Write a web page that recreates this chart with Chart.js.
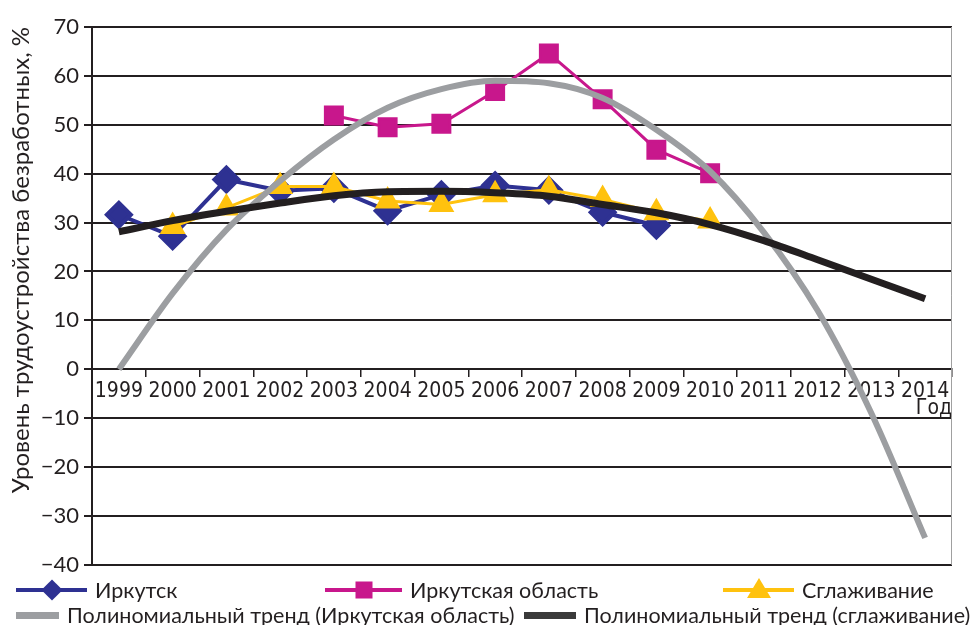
<!DOCTYPE html>
<html>
<head>
<meta charset="utf-8">
<script src="https://cdn.jsdelivr.net/npm/chart.js@4/dist/chart.umd.min.js"></script>
<style>
  body { margin: 0; background: #fff; }
  #wrap { position: relative; width: 971px; height: 625px; overflow: hidden; }
  #box { position: absolute; left: 0; top: 0; width: 971px; height: 583px; }
  .leg { position: absolute; display: flex; align-items: center; height: 24px;
         font: 21.5px Lato, sans-serif; color: #231f20; white-space: nowrap; }
  .sample { position: relative; margin-right: 8px; }
  .mk { position: absolute; left: 50%; top: 50%; }
</style>
</head>
<body>
<div id="wrap">
  <div id="box"><canvas id="chart"></canvas></div>
  <div id="legend"></div>
</div>
<script>
// годы
const years = ['1999', '2000', '2001', '2002', '2003', '2004', '2005', '2006',
               '2007', '2008', '2009', '2010', '2011', '2012', '2013', '2014'];

// ряды данных, %
const irkutsk = [31.6, 27.2, 38.8, 36.5, 37.0, 32.4, 35.7, 37.6, 36.6, 32.1, 29.4,
                 null, null, null, null, null];
const oblast = [null, null, null, null, 51.9, 49.5, 50.2, 56.9, 64.6, 55.2, 44.9, 40.1,
                null, null, null, null];
const smoothing = [null, 29.2, 33.0, 37.4, 37.4, 34.4, 33.7, 35.7, 36.7, 34.7, 32.0, 30.3,
                   null, null, null, null];

// линии тренда
const trendOblast = [0.0, 15.5, 28.5, 38.5, 47.0, 53.5, 57.3, 59.0, 58.5, 55.5, 49.0, 40.5,
                     28.0, 12.0, -9.0, -34.5];
const trendSmooth = [28.1, 30.4, 32.3, 34.0, 35.5, 36.3, 36.4, 36.1, 35.4, 33.7, 32.0, 29.6,
                     26.3, 22.4, 18.4, 14.4];

const yTicks = [-40, -30, -20, -10, 0, 10, 20, 30, 40, 50, 60, 70];
const yTitle = 'Уровень трудоустройства безработных, %';
const xTitle = 'Год';

const blue = '#2e3192';
const magenta = '#c8178c';
const yellow = '#ffc20e';
const gray = '#9c9ea1';
const black = '#231f20';
const narrow = '"DejaVu Sans Condensed", "Liberation Sans Narrow", sans-serif';

// рамка справа и подпись оси X
const extras = {
  id: 'extras',
  beforeDatasetsDraw(chart) {
    const { ctx, chartArea, scales } = chart;
    ctx.save();
    ctx.strokeStyle = '#a0a0a0';
    ctx.lineWidth = 1;
    ctx.beginPath();
    ctx.moveTo(chartArea.right - 0.5, chartArea.top);
    ctx.lineTo(chartArea.right - 0.5, chartArea.bottom);
    ctx.stroke();
    ctx.font = '21px ' + narrow;
    ctx.fillStyle = black;
    ctx.textAlign = 'right';
    ctx.textBaseline = 'top';
    ctx.fillText(xTitle, chartArea.right, scales.y.getPixelForValue(0) + 29);
    ctx.restore();
  }
};

const ctx = document.getElementById('chart').getContext('2d');
const chart = new Chart(ctx, {
  type: 'line',
  data: {
    labels: years,
    datasets: [
      {
        label: 'Иркутск', data: irkutsk, borderColor: blue, backgroundColor: blue,
        borderWidth: 4, pointStyle: 'rectRot', pointRadius: 12, order: 4
      },
      {
        label: 'Иркутская область', data: oblast, borderColor: magenta, backgroundColor: magenta,
        borderWidth: 3, pointStyle: 'rect', pointRadius: 12, order: 3
      },
      {
        label: 'Сглаживание', data: smoothing, borderColor: yellow, backgroundColor: yellow,
        borderWidth: 3, pointStyle: 'triangle', pointRadius: 12, order: 2
      },
      {
        label: 'Полиномиальный тренд (Иркутская область)', data: trendOblast,
        borderColor: gray, borderWidth: 6, pointRadius: 0, cubicInterpolationMode: 'monotone', order: 1
      },
      {
        label: 'Полиномиальный тренд (сглаживание)', data: trendSmooth,
        borderColor: black, borderWidth: 7, pointRadius: 0, cubicInterpolationMode: 'monotone', order: 0
      }
    ]
  },
  options: {
    responsive: true,
    maintainAspectRatio: false,
    animation: false,
    layout: { padding: { top: 27, right: 19, bottom: 4, left: 0 } },
    plugins: {
      legend: { display: false },
      tooltip: { enabled: false }
    },
    scales: {
      x: {
        position: { y: 0 },
        offset: true,
        grid: { offset: true, drawOnChartArea: false, color: black, lineWidth: 1.5, tickLength: 7 },
        border: { display: true, color: black, width: 2 },
        ticks: { color: black, font: { family: narrow, size: 21 }, padding: 3, maxRotation: 0, autoSkip: false },
        afterFit(scale) { scale.height = 0; }
      },
      y: {
        min: -40, max: 70,
        afterBuildTicks(scale) { scale.ticks = yTicks.map(v => ({ value: v })); },
        grid: { color: black, lineWidth: 2, tickLength: 8 },
        border: { color: black, width: 2 },
        ticks: {
          color: black, font: { family: 'Lato', size: 22 }, padding: 5,
          callback: v => String(v).replace('-', '\u2212')
        },
        title: {
          display: true, text: yTitle, align: 'end', color: black,
          font: { family: 'Lato', size: 24 }, padding: { top: 7, bottom: 0 }
        },
        afterFit(scale) { scale.width = 92; }
      }
    }
  },
  plugins: [extras]
});

// легенда
const legendRows = [
  { ds: 0, left: 16, top: 578, w: 71, h: 4, marker: 'diamond' },
  { ds: 1, left: 325, top: 578, w: 77, h: 4, marker: 'square' },
  { ds: 2, left: 723, top: 578, w: 71, h: 4, marker: 'triangle' },
  { ds: 3, left: 16, top: 603, w: 43, h: 7, marker: null },
  { ds: 4, left: 524, top: 603, w: 52, h: 7, marker: null }
];
const legend = document.getElementById('legend');
legendRows.forEach(item => {
  const ds = chart.data.datasets[item.ds];
  const el = document.createElement('div');
  el.className = 'leg';
  el.style.left = item.left + 'px';
  el.style.top = item.top + 'px';
  const sample = document.createElement('div');
  sample.className = 'sample';
  sample.style.width = item.w + 'px';
  sample.style.height = item.h + 'px';
  sample.style.background = ds.borderColor === black ? '#3a3a3a' : ds.borderColor;
  if (item.marker) {
    const mk = document.createElement('div');
    mk.className = 'mk';
    if (item.marker === 'diamond') {
      mk.style.width = '15px'; mk.style.height = '15px'; mk.style.background = ds.borderColor;
      mk.style.transform = 'translate(-50%, -50%) rotate(45deg)';
    } else if (item.marker === 'square') {
      mk.style.width = '17px'; mk.style.height = '17px'; mk.style.background = ds.borderColor;
      mk.style.transform = 'translate(-50%, -50%)';
    } else {
      mk.style.width = '0'; mk.style.height = '0';
      mk.style.borderLeft = '12px solid transparent';
      mk.style.borderRight = '12px solid transparent';
      mk.style.borderBottom = '20px solid ' + ds.borderColor;
      mk.style.transform = 'translate(-50%, -60%)';
    }
    sample.appendChild(mk);
  }
  const text = document.createElement('span');
  text.textContent = ds.label;
  el.appendChild(sample);
  el.appendChild(text);
  legend.appendChild(el);
});
</script>
</body>
</html>
